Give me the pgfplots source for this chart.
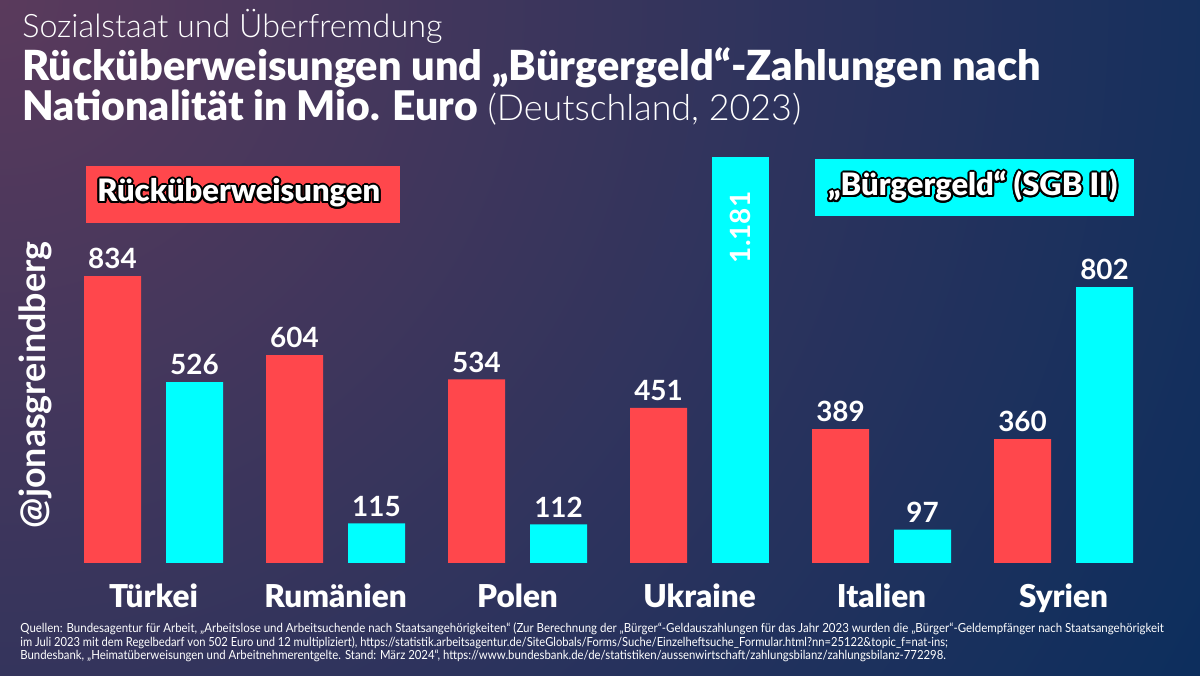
\documentclass[border=0pt]{standalone}
\usepackage{pgfplots}
\pgfplotsset{compat=1.18}
\usepackage{fontspec}
\setmainfont{Lato}
\newfontfamily\blackfont{Lato Black}
\newfontfamily\lightfont{Lato Light}
\newfontfamily\footfont{Lato}[FakeStretch=0.89]
\definecolor{barred}{HTML}{FF474C}
\definecolor{barcyan}{HTML}{00FFFF}
\definecolor{navy}{HTML}{0B2E5D}
\definecolor{plum}{HTML}{5A3A5C}
\newcommand{\sh}[3]{\makebox[0pt][l]{\kern#1bp\raisebox{#2bp}{\color{black}#3}}}
\newcommand{\outltext}[1]{%
  \sh{1}{0}{#1}\sh{-1}{0}{#1}\sh{0}{1}{#1}\sh{0}{-1}{#1}%
  \sh{0.71}{0.71}{#1}\sh{-0.71}{0.71}{#1}\sh{0.71}{-0.71}{#1}\sh{-0.71}{-0.71}{#1}%
  \sh{0.92}{0.38}{#1}\sh{-0.92}{0.38}{#1}\sh{0.92}{-0.38}{#1}\sh{-0.92}{-0.38}{#1}%
  \sh{0.38}{0.92}{#1}\sh{-0.38}{0.92}{#1}\sh{0.38}{-0.92}{#1}\sh{-0.38}{-0.92}{#1}%
  {\color{white}#1}}
\begin{document}
\begin{tikzpicture}[x=0.5bp,y=0.5bp]
\useasboundingbox (0,0) rectangle (1200,675);
\fill[navy] (0,0) rectangle (1200,675);
\begin{scope}
\clip (0,0) rectangle (1200,675);
\shade[inner color=plum, outer color=navy] (0,675) circle (700bp);
\end{scope}
% titles
\node[anchor=base west, inner sep=0, text=white, font=\lightfont\fontsize{16.2}{19}\selectfont] at (22,637) {Sozialstaat und Überfremdung};
\node[anchor=base west, inner sep=0, text=white, font=\blackfont\fontsize{20.8}{24}\selectfont] at (22,594) {Rücküberweisungen und „Bürgergeld“-Zahlungen nach};
\node[anchor=base west, inner sep=0, text=white] at (22,554) {{\blackfont\fontsize{20.5}{24}\selectfont Nationalität in Mio. Euro}{\lightfont\fontsize{18}{22}\selectfont\ (Deutschland, 2023)}};
% legend boxes
\fill[barred] (86,509) rectangle (400,452);
\node[anchor=base west, inner sep=0, font=\blackfont\fontsize{15.5}{18}\selectfont] at (97,473) {\outltext{Rücküberweisungen}};
\fill[barcyan] (815,516) rectangle (1134,459);
\node[anchor=base west, inner sep=0, font=\blackfont\fontsize{15.5}{18}\selectfont] at (828,479) {\outltext{„Bürgergeld“ (SGB II)}};
% watermark
\node[rotate=90, text=white, font=\bfseries\fontsize{18}{20}\selectfont] at (35,290) {@jonasgreindberg};
% footnote
\begin{scope}[every node/.style={anchor=base west, inner sep=0, text=white, font=\footfont\fontsize{6.3}{7}\selectfont}]
\node[xscale=1.027] at (20,43) {Quellen: Bundesagentur für Arbeit, „Arbeitslose und Arbeitsuchende nach Staatsangehörigkeiten“ (Zur Berechnung der „Bürger“-Geldauszahlungen für das Jahr 2023 wurden die „Bürger“-Geldempfänger nach Staatsangehörigkeit};
\node at (20,29) {im Juli 2023 mit dem Regelbedarf von 502 Euro und 12 multipliziert), https://statistik.arbeitsagentur.de/SiteGlobals/Forms/Suche/Einzelheftsuche\_Formular.html?nn=25122\&topic\_f=nat-ins;};
\node[xscale=1.017] at (20,16) {Bundesbank, „Heimatüberweisungen und Arbeitnehmerentgelte. Stand: März 2024“, https://www.bundesbank.de/de/statistiken/aussenwirtschaft/zahlungsbilanz/zahlungsbilanz-772298.};
\end{scope}
\begin{axis}[at={(31.25bp,56bp)}, anchor=south west, scale only axis,
  width=546bp, height=206.4bp, xmin=-0.5, xmax=5.5, ymin=0, ymax=1200,
  axis line style={draw=none}, tick style={draw=none}, ytick=\empty,
  xtick={0,...,5}, xticklabels={Türkei,Rumänien,Polen,Ukraine,Italien,Syrien},
  xticklabel style={text=white, font=\blackfont\fontsize{15.8}{18}\selectfont, anchor=base, yshift=-18bp},
  ybar, bar width=28.5bp, clip=false,
  every node near coord/.append style={text=white, font=\bfseries\fontsize{14}{17}\selectfont},
  /pgf/number format/.cd, 1000 sep={.}, assume math mode=true]
\addplot[fill=barred, draw=none, bar shift=-20.5bp, nodes near coords] coordinates {(0,834) (1,604) (2,534) (3,451) (4,389) (5,360)};
\addplot[fill=barcyan, draw=none, bar shift=20.5bp, nodes near coords] coordinates {(0,526) (1,115) (2,112) (4,97) (5,802)};
\addplot[fill=barcyan, draw=none, bar shift=20.5bp, nodes near coords,
  every node near coord/.append style={yshift=-14bp, rotate=90, anchor=east}] coordinates {(3,1181)};
\end{axis}
\end{tikzpicture}
\end{document}
